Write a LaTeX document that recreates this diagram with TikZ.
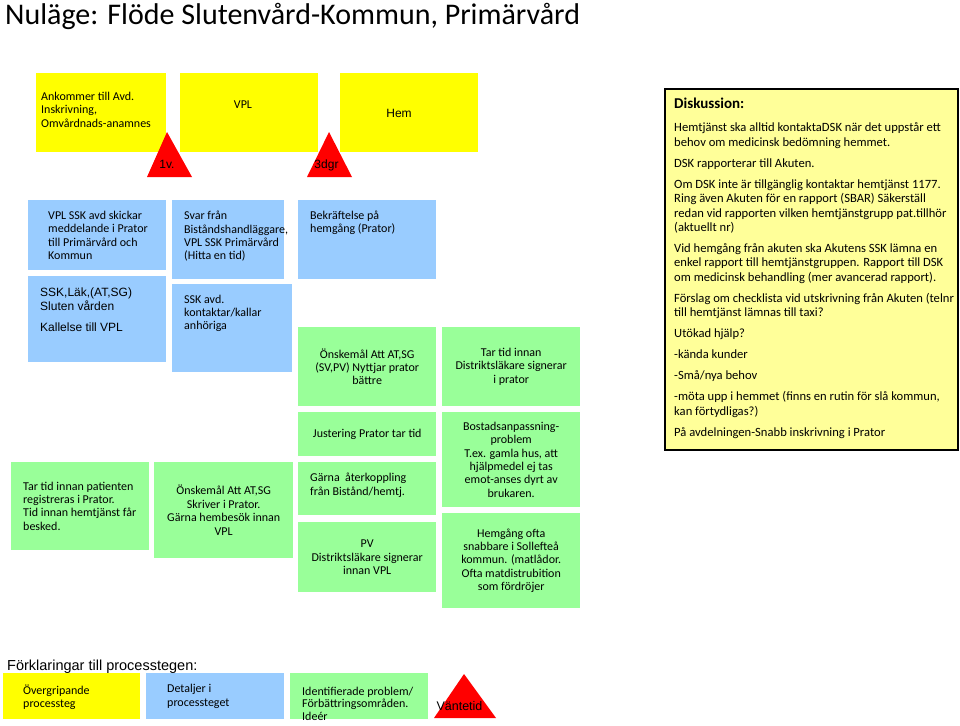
\documentclass[tikz,border=0pt]{standalone}
\usepackage{fontspec}
\setmainfont{Carlito}
\newfontfamily\arialfont{Liberation Sans}
\usepackage{tikz}
\usetikzlibrary{positioning}
\definecolor{stegyellow}{RGB}{255,255,0}
\definecolor{detaljblue}{RGB}{153,204,255}
\definecolor{problemgreen}{RGB}{153,255,153}
\definecolor{vantared}{RGB}{255,0,0}
\definecolor{diskyellow}{RGB}{255,255,153}
\newcommand{\rutafont}{\fontsize{12}{13.4}\selectfont}
\newcommand{\armfont}{\arialfont\fontsize{12}{13.5}\selectfont}
\tikzset{
  steg/.style={
    fill=stegyellow,
    anchor=north west,
    inner sep=0pt,
    align=center,
    font=\rutafont
  },
  detalj/.style={
    fill=detaljblue,
    anchor=north west,
    inner sep=0pt,
    align=center,
    font=\rutafont
  },
  problem/.style={
    fill=problemgreen,
    anchor=north west,
    inner sep=0pt,
    align=center,
    font=\rutafont
  },
  rutatext/.style={
    anchor=north west,
    inner sep=0pt,
    align=left,
    font=\rutafont
  },
  vanta/.style={
    fill=vantared
  },
  vantatext/.style={
    anchor=base,
    inner sep=0pt,
    font=\arialfont\fontsize{12}{14}\selectfont
  }
}

\begin{document}
\begin{tikzpicture}[x=1pt,y=-1pt]
\useasboundingbox (0,0) rectangle (960,725);

\node[anchor=base west, inner sep=0pt, font=\fontsize{30}{36}\selectfont] (titel) at (5,25) {Nuläge: Flöde Slutenvård-Kommun, Primärvård};

% overgripande processteg
\node[steg, minimum width=130, minimum height=79] (ankommer) at (36,73) {};
\node[rutatext] (ankommertext) at ([xshift=5pt,yshift=-19pt]ankommer.north west) {Ankommer till Avd.\\Inskrivning,\\Omvårdnads-anamnes};
\node[steg, minimum width=138, minimum height=79] (vpl) at (180,73) {};
\node[anchor=base, inner sep=0pt, font=\rutafont] (vpltext) at (243,108) {VPL};
\node[steg, minimum width=138, minimum height=79] (hem) at (340,73) {};
\node[anchor=base, inner sep=0pt, font=\armfont] (hemtext) at (399,117) {Hem};

% vantetider
\fill[vanta] (147,177) -- (167,132) -- (192,177) -- cycle;
\node[vantatext] (vecka) at (167,168) {1v.};
\fill[vanta] (307,177) -- (329,132) -- (352,177) -- cycle;
\node[vantatext] (dagar) at (326.5,168) {3dgr};

% detaljer
\node[detalj, minimum width=138, minimum height=70] (meddelande) at (28,200) {};
\node[rutatext] (meddelandetext) at ([xshift=20pt,yshift=-11pt]meddelande.north west) {VPL SSK avd skickar\\meddelande i Prator\\till Primärvård och\\Kommun};
\node[detalj, minimum width=138, minimum height=86] (sluten) at (28,276) {};
\node[rutatext, font=\armfont] (slutentext) at ([xshift=12pt,yshift=-12pt]sluten.north west) {SSK,Läk,(AT,SG)\\Sluten vården\\[8pt]Kallelse till VPL};
\node[detalj, minimum width=112, minimum height=79] (svar) at (172,200) {};
\node[rutatext] (svartext) at ([xshift=12pt,yshift=-11pt]svar.north west) {Svar från\\Biståndshandläggare,\\VPL SSK Primärvård\\(Hitta en tid)};
\node[detalj, minimum width=120, minimum height=88] (anhoriga) at (172,284) {};
\node[rutatext] (anhorigatext) at ([xshift=12pt,yshift=-10.5pt]anhoriga.north west) {SSK avd.\\kontaktar/kallar\\anhöriga};
\node[detalj, minimum width=138, minimum height=79] (bekraftelse) at (298,200) {};
\node[rutatext] (bekraftelsetext) at ([xshift=12pt,yshift=-10.5pt]bekraftelse.north west) {Bekräftelse på\\hemgång (Prator)};

% identifierade problem
\node[problem, minimum width=138, minimum height=79] (nyttjar) at (298,327) {Önskemål Att AT,SG\\(SV,PV) Nyttjar prator\\bättre};
\node[problem, minimum width=138, minimum height=79] (signerar) at (442,327) {Tar tid innan\\Distriktsläkare signerar\\i prator};
\node[problem, minimum width=138, minimum height=44] (justering) at (298,412) {Justering Prator tar tid};
\node[problem, minimum width=138, minimum height=53] (aterkoppling) at (298,462) {};
\node[rutatext] (aterkopplingtext) at ([xshift=12pt,yshift=-11pt]aterkoppling.north west) {Gärna~ återkoppling\\från Bistånd/hemtj.};
\node[problem, minimum width=138, minimum height=70] (pv) at (298,522) {PV\\Distriktsläkare signerar\\innan VPL};
\node[problem, minimum width=138, minimum height=95] (bostad) at (442,412) {Bostadsanpassning-\\problem\\T.ex. gamla hus, att\\hjälpmedel ej tas\\emot-anses dyrt av\\brukaren.};
\node[problem, minimum width=138, minimum height=95] (snabbare) at (442,513) {Hemgång ofta\\snabbare i Sollefteå\\kommun. (matlådor.\\Ofta matdistrubition\\som fördröjer};
\node[problem, minimum width=138, minimum height=88] (registreras) at (11,462) {};
\node[rutatext] (registrerastext) at ([xshift=12pt,yshift=-19.5pt]registreras.north west) {Tar tid innan patienten\\registreras i Prator.\\Tid innan hemtjänst får\\besked.};
\node[problem, minimum width=139, minimum height=96] (hembesok) at (154,462) {Önskemål Att AT,SG\\Skriver i Prator.\\Gärna hembesök innan\\VPL};

% diskussion
\node[draw=black, line width=1.5pt, fill=diskyellow, anchor=north west, minimum width=293, minimum height=361, inner sep=0pt] (diskussion) at (664,88) {};
\node[anchor=base west, inner sep=0pt, font=\fontsize{15}{18}\selectfont\bfseries] (diskrubrik) at (674,108) {Diskussion:};
\node[rutatext, font=\fontsize{12.6}{14.3}\selectfont] (disktext) at (674,122.8) {Hemtjänst ska alltid kontaktaDSK när det uppstår ett\\
behov om medicinsk bedömning hemmet.\\[6.8pt]
DSK rapporterar till Akuten.\\[6.8pt]
Om DSK inte är tillgänglig kontaktar hemtjänst 1177.\\
Ring även Akuten för en rapport (SBAR) Säkerställ\\
redan vid rapporten vilken hemtjänstgrupp pat.tillhör\\
(aktuellt nr)\\[6.8pt]
Vid hemgång från akuten ska Akutens SSK lämna en\\
enkel rapport till hemtjänstgruppen. Rapport till DSK\\
om medicinsk behandling (mer avancerad rapport).\\[6.8pt]
Förslag om checklista vid utskrivning från Akuten (telnr\\
till hemtjänst lämnas till taxi?\\[6.8pt]
Utökad hjälp?\\[6.8pt]
-kända kunder\\[6.8pt]
-Små/nya behov\\[6.8pt]
-möta upp i hemmet (finns en rutin för slå kommun,\\
kan förtydligas?)\\[6.8pt]
På avdelningen-Snabb inskrivning i Prator};

% forklaringar
\node[anchor=base west, inner sep=0pt, font=\arialfont\fontsize{14.5}{17}\selectfont] (forklaring) at (7,670) {Förklaringar till processtegen:};
\node[steg, minimum width=137, minimum height=46] (forklsteg) at (3,673) {};
\node[rutatext, font=\fontsize{12}{13.5}\selectfont] (forklstegtext) at ([xshift=20pt,yshift=-11.5pt]forklsteg.north west) {Övergripande\\processteg};
\node[detalj, minimum width=138, minimum height=46] (forkldetalj) at (146,673) {};
\node[rutatext, font=\fontsize{12}{14}\selectfont] (forkldetaljtext) at ([xshift=21pt,yshift=-10.5pt]forkldetalj.north west) {Detaljer i\\processteget};
\node[problem, minimum width=138, minimum height=46] (forklproblem) at (290,673) {};
\node[rutatext, font=\fontsize{12}{12.5}\selectfont] (forklproblemtext) at ([xshift=12pt,yshift=-13.5pt]forklproblem.north west) {Identifierade problem/\\Förbättringsområden.\\Ideér};
\fill[vanta] (434,718) -- (464,674) -- (496,718) -- cycle;
\node[vantatext, font=\arialfont\fontsize{12.5}{14}\selectfont] (forklvanta) at (459.5,710) {Väntetid};
\end{tikzpicture}
\end{document}
